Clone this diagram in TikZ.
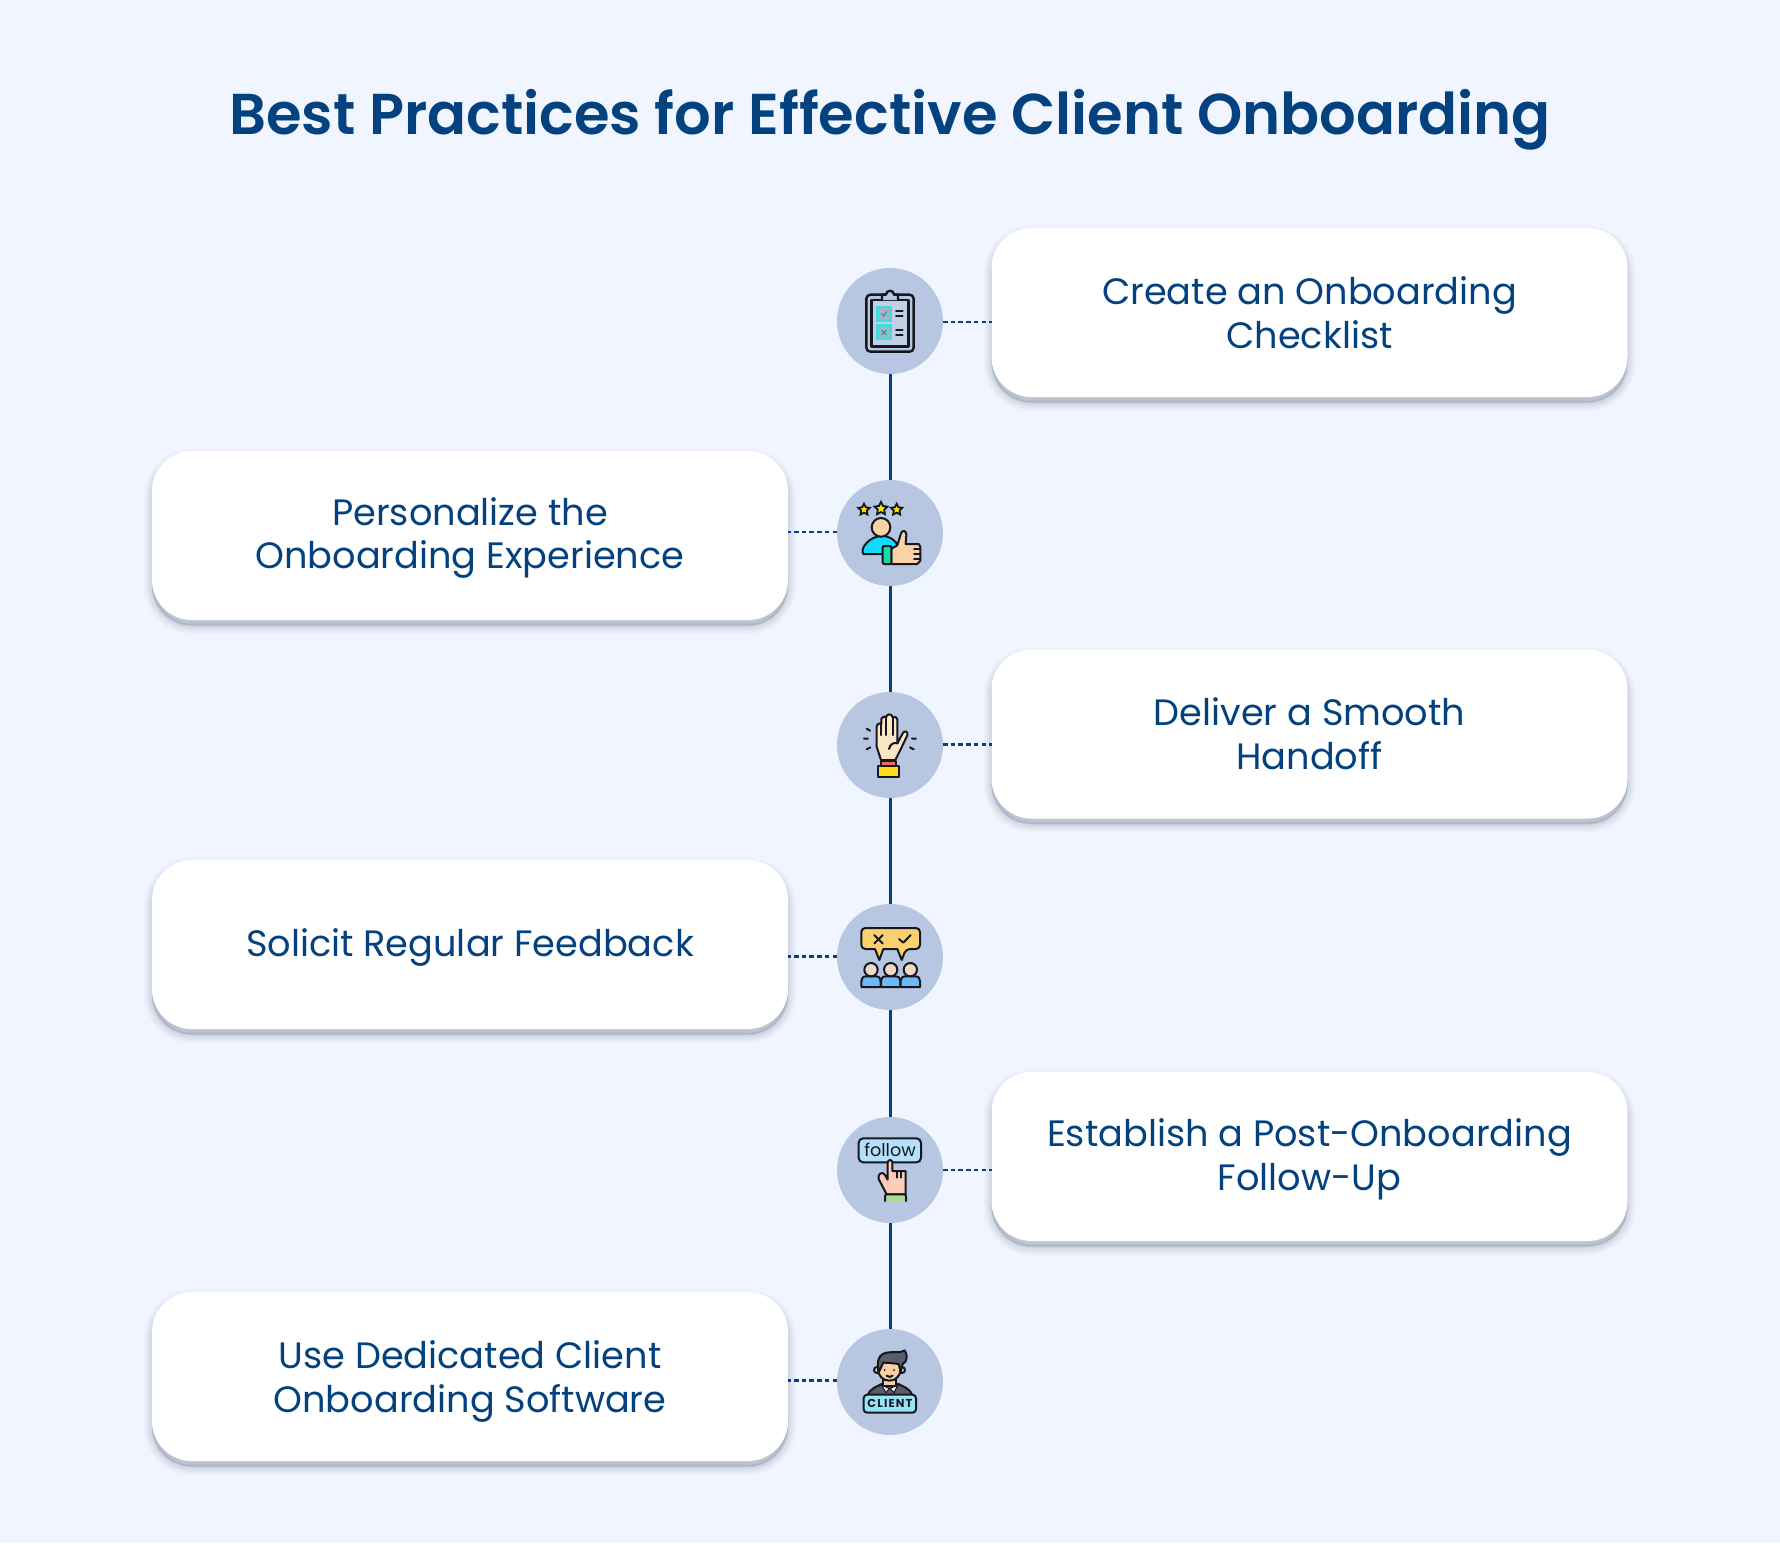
\documentclass[tikz,border=0pt]{standalone}
\usepackage{fontspec}
\setmainfont{Poppins}
\newfontfamily\titlefont{Poppins SemiBold}
\newfontfamily\iconbold[LetterSpace=10]{Poppins Bold}
\usetikzlibrary{shapes.geometric}
\definecolor{pagebg}{HTML}{F0F5FF}
\definecolor{navy}{HTML}{04417F}
\definecolor{disc}{HTML}{B7C7E2}
\definecolor{ink}{HTML}{15181F}
\definecolor{shade}{HTML}{4A5870}
\definecolor{gold}{HTML}{FFE20A}
\definecolor{tealbox}{HTML}{40DDE0}
\tikzset{
  card/.style={rectangle,rounded corners=40pt,fill=white,minimum width=636pt,minimum height=169pt,
    inner sep=0pt,outer sep=0pt,
    preaction={draw=shade,line width=17pt,opacity=.025,fill=shade,transform canvas={yshift=-6pt}},
    preaction={draw=shade,line width=13pt,opacity=.035,fill=shade,transform canvas={yshift=-6pt}},
    preaction={draw=shade,line width=9pt,opacity=.05,fill=shade,transform canvas={yshift=-6pt}},
    preaction={draw=shade,line width=5pt,opacity=.06,fill=shade,transform canvas={yshift=-6pt}},
    preaction={draw=shade,line width=1pt,opacity=.07,fill=shade,transform canvas={yshift=-5pt}}},
  cardtext/.style={align=center,text=navy,inner sep=0pt,font=\fontsize{36.7}{43.8}\selectfont},
  hub/.style={circle,fill=disc,minimum size=106pt,inner sep=0pt,outer sep=0pt},
  spine/.style={draw=navy,line width=2.6pt},
  tie/.style={draw=navy,line width=2.5pt,dash pattern=on 4.5pt off 3.2pt},
  ic/.style={draw=ink,line width=2pt,line join=round,line cap=round},
  icstar/.style={star,star points=5,star point ratio=2.0,draw=ink,fill=gold,line width=1.8pt,minimum size=12pt,inner sep=0pt}
}
\begin{document}
\begin{tikzpicture}[x=1pt,y=-1pt]
\fill[pagebg] (0,0) rectangle (1780,1543);
\useasboundingbox (0,0) rectangle (1780,1543);
\node[text=navy,font=\titlefont\fontsize{57.6}{70}\selectfont] (title) at (890,120) {Best Practices for Effective Client Onboarding};
\node[hub] (c1) at (890,321) {};
\node[hub] (c2) at (890,533) {};
\node[hub] (c3) at (890,745) {};
\node[hub] (c4) at (890,957) {};
\node[hub] (c5) at (890,1170) {};
\node[hub] (c6) at (890,1382) {};
\node[card] (k1) at (1309.5,312.5) {};
\node[card] (k2) at (470,535.5) {};
\node[card] (k3) at (1309.5,734) {};
\node[card] (k4) at (470,944.5) {};
\node[card] (k5) at (1309.5,1156.5) {};
\node[card] (k6) at (470,1376.5) {};
\node[cardtext] (t1) at ([yshift=0pt]k1.center) {Create an Onboarding\\Checklist};
\node[cardtext] (t2) at ([yshift=-2.5pt]k2.center) {Personalize the\\Onboarding Experience};
\node[cardtext] (t3) at ([yshift=0pt]k3.center) {Deliver a Smooth\\Handoff};
\node[cardtext] (t4) at ([yshift=-3.4pt]k4.center) {Solicit Regular Feedback};
\node[cardtext] (t5) at ([yshift=-3pt]k5.center) {Establish a Post-Onboarding\\Follow-Up};
\node[cardtext] (t6) at ([yshift=-5pt]k6.center) {Use Dedicated Client\\Onboarding Software};
\draw[spine] ([xshift=.7pt]c1.south)--([xshift=.7pt]c2.north);
\draw[spine] ([xshift=.7pt]c2.south)--([xshift=.7pt]c3.north);
\draw[spine] ([xshift=.7pt]c3.south)--([xshift=.7pt]c4.north);
\draw[spine] ([xshift=.7pt]c4.south)--([xshift=.7pt]c5.north);
\draw[spine] ([xshift=.7pt]c5.south)--([xshift=.7pt]c6.north);
\draw[tie] ([yshift=-1pt]c1.east)--([yshift=-1pt]c1.east -| k1.west);
\draw[tie] ([yshift=1pt]c2.west)--([yshift=1pt]c2.west -| k2.east);
\draw[tie] ([yshift=.7pt]c3.east)--([yshift=.7pt]c3.east -| k3.west);
\draw[tie] ([yshift=.7pt]c4.west)--([yshift=.7pt]c4.west -| k4.east);
\draw[tie] (c5.east)--(c5.east -| k5.west);
\draw[tie] ([yshift=1.3pt]c6.west)--([yshift=1.3pt]c6.west -| k6.east);
% Icon 1 clipboard
\begin{scope}[shift={(820,250)},scale=1/3]
\draw[ic,line width=2.4pt,fill=disc,rounded corners=4pt] (139,134) rectangle (281,305);
\draw[ic,line width=2.4pt,fill=disc!85!white] (155,150) rectangle (265,290);
\draw[ic,line width=2.4pt,fill=disc] (186,150) -- (186,134) -- (198,134) arc (180:360:12) -- (234,134) -- (234,150);
\draw[draw=tealbox,line width=2.4pt,fill=disc!90!black] (172,171) rectangle (212,211);
\draw[draw=tealbox,line width=2.4pt,fill=disc!90!black] (172,227) rectangle (212,267);
\draw[draw=tealbox!70!black,line width=1.2pt] (185,190) -- (192,198) -- (200,184);
\draw[draw=tealbox!70!black,line width=1.2pt] (184,240) -- (200,255) (200,240) -- (184,255);
\draw[ic] (228,183)--(248,183) (228,199)--(248,199) (228,239)--(248,239) (228,255)--(248,255);
\end{scope}
% Icon 2 rating
\begin{scope}[shift={(820,470)},scale=1/3]
\definecolor{cyanbody}{HTML}{0FDCFF}
\definecolor{skinh}{HTML}{F8D3A5}
\definecolor{cuff}{HTML}{1ED8A8}
\node[icstar] (st1) at (132,119) {};
\node[icstar,minimum size=13.5pt] (st2) at (183,116) {};
\node[icstar] (st3) at (230,119) {};
\draw[ic,fill=cyanbody] (130,252) .. controls (118,235) and (150,198) .. (185,198) .. controls (210,198) and (225,210) .. (235,228) -- (195,252) -- cycle;
\draw[ic,fill=skinh] (183,172) circle (28);
\draw[ic,fill=skinh] (214,236) -- (232,226) -- (243,190) .. controls (247,178) and (260,182) .. (259,195) -- (257,222) -- (296,222) -- (301,230) -- (301,272) -- (292,282) -- (214,282) -- cycle;
\draw[ic] (282,238)--(301,238) (282,253)--(301,253) (282,268)--(301,268);
\draw[ic,fill=cuff,rounded corners=1pt] (188,228) rectangle (214,282);
\end{scope}
% Icon 3 raised hand
\begin{scope}[shift={(820,680)},scale=1/3]
\definecolor{palm}{HTML}{FBE7C6}
\definecolor{band}{HTML}{F06A5A}
\definecolor{wrist}{HTML}{FFD91A}
\draw[ic,fill=palm] (183,240) -- (170,200) -- (170,140) .. controls (170,130) and (184,128) .. (184,132) -- (184,116) .. controls (188,108) and (196,108) .. (198,112) .. controls (200,100) and (216,100) .. (218,112) .. controls (224,108) and (232,112) .. (232,118) -- (232,190) -- (248,160) .. controls (252,150) and (266,154) .. (262,166) -- (240,212) -- (226,240) -- cycle;
\draw[ic] (184,130)--(184,165) (198,112)--(198,165) (218,112)--(218,165);
\draw[ic] (207,207) .. controls (210,192) and (222,186) .. (232,190);
\draw[ic,fill=band] (183,244) rectangle (228,258);
\draw[ic,fill=wrist] (175,258) rectangle (236,290);
\draw[ic] (140,146)--(150,152) (132,176)--(144,176) (140,208)--(151,202) (276,176)--(288,176) (270,202)--(281,208);
\end{scope}
% Icon 4 feedback
\begin{scope}[shift={(820,895)},scale=1/3]
\definecolor{bub}{HTML}{FBD06F}
\draw[ic,fill=bub,rounded corners=4pt] (124,99) -- (300,99) -- (300,162) -- (258,162) [sharp corners] -- (245,195) -- (232,162) [rounded corners=0pt] -- (190,162) -- (178,195) -- (165,162) [rounded corners=4pt] -- (124,162) -- cycle;
\draw[ic] (163,120)--(188,145) (188,120)--(163,145);
\draw[ic] (237,132)--(250,143)--(272,120);
\definecolor{ppl}{HTML}{6CB9FA}
\definecolor{skinb}{HTML}{F0D8C8}
\foreach \hx in {153,212,271}{
  \draw[ic,fill=ppl] (\hx-29,276) -- (\hx-29,258) .. controls (\hx-29,249) and (\hx-24,244) .. (\hx-14,244) -- (\hx+14,244) .. controls (\hx+24,244) and (\hx+29,249) .. (\hx+29,258) -- (\hx+29,276) -- cycle;
  \draw[ic,fill=skinb] (\hx,224) circle (20);
}
\end{scope}
% Icon 5 follow
\begin{scope}[shift={(820,1105)},scale=1/3]
\definecolor{btn}{HTML}{B5E0FC}
\definecolor{skinf}{HTML}{FBCDB9}
\draw[ic,fill=btn,rounded corners=4.5pt] (116,100) rectangle (303,172);
\node[text=ink,inner sep=0pt,font=\fontsize{17.6}{19}\selectfont] (ftext) at (210,136) {follow};
\draw[ic,fill=skinf] (203,172) arc (180:360:7) -- (217,198) -- (257,198) -- (257,268) -- (200,268) -- (176,222) .. controls (172,205) and (188,198) .. (195,210) -- (203,224) -- cycle;
\draw[ic] (230,198)--(230,218) (244,198)--(244,218);
\definecolor{sleeve}{HTML}{A6DD92}
\draw[ic,fill=sleeve,rounded corners=2pt] (195,288) -- (195,268) -- (258,268) -- (258,288);
\end{scope}
% Icon 6 client
\begin{scope}[shift={(820,1320)},scale=1/3]
\definecolor{suit}{HTML}{5A5E6A}
\definecolor{skinc}{HTML}{FBCFA2}
\definecolor{tag}{HTML}{96E4F8}
\draw[ic,fill=suit] (143,226) .. controls (150,205) and (170,200) .. (185,192) -- (235,192) .. controls (250,200) and (270,205) .. (277,226) -- cycle;
\draw[ic,fill=skinc] (190,170) rectangle (228,198);
\draw[draw=ink,line width=1pt,fill=white!90!gray] (185,196) -- (208,205) -- (198,218) -- cycle;
\draw[draw=ink,line width=1pt,fill=white!90!gray] (233,196) -- (210,205) -- (222,218) -- cycle;
\draw[ic,fill=skinc] (171,150) circle (9);
\draw[ic,fill=skinc] (246,150) circle (9);
\draw[ic,fill=skinc] (208,148) ellipse (34 and 34);
\draw[ic,fill=suit] (177,155) .. controls (168,125) and (175,100) .. (205,97) .. controls (225,95) and (240,100) .. (254,91) .. controls (264,105) and (262,125) .. (248,132) -- (242,155) -- (236,132) .. controls (220,130) and (205,128) .. (190,128) -- cycle;
\fill[ink] (194,150) circle (3) (222,150) circle (3);
\draw[ic] (200,167) .. controls (205,172) and (213,172) .. (218,167);
\draw[ic,fill=tag,rounded corners=3.5pt] (131,224) rectangle (288,278);
\node[text=ink,inner sep=0pt,font=\iconbold\fontsize{11.5}{12}\selectfont] (ctext) at (210,251) {CLIENT};
\end{scope}
\end{tikzpicture}
\end{document}
